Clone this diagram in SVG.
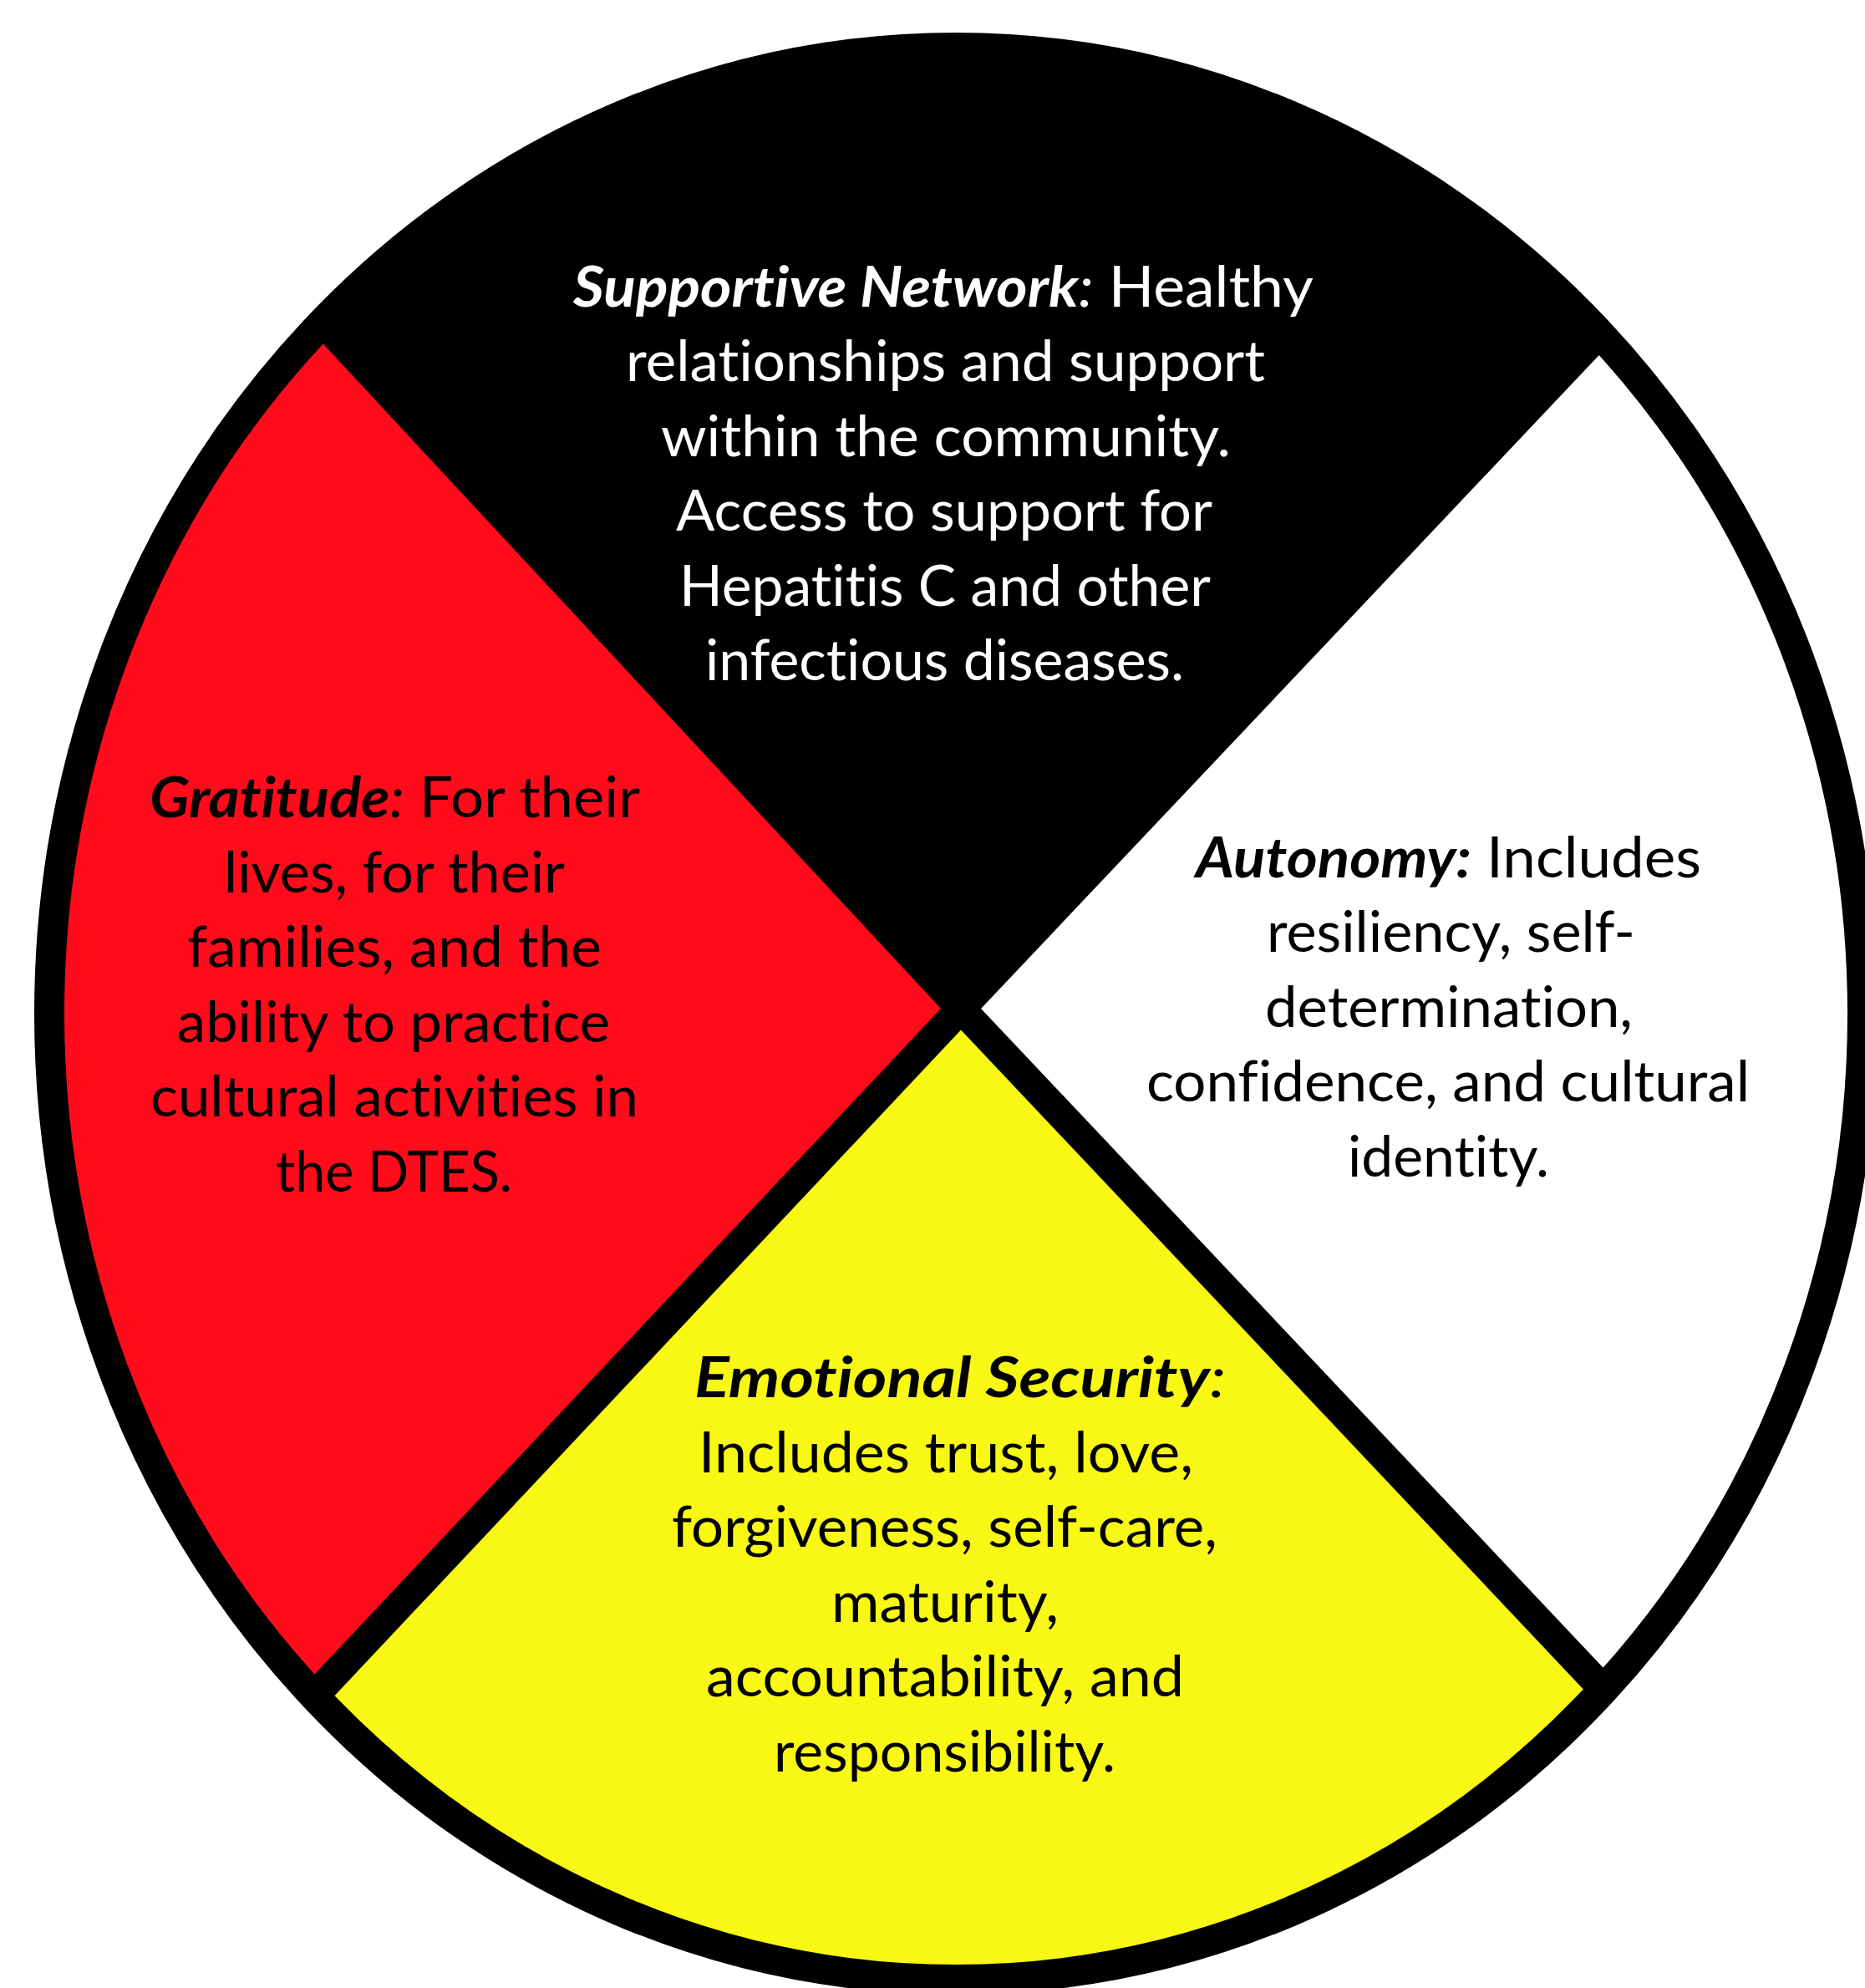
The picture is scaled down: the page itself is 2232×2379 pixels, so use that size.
<svg xmlns="http://www.w3.org/2000/svg" width="2232" height="2379" viewBox="0 0 2232 2379">
<style>
.t{font-family:Lato,"Open Sans","Liberation Sans",sans-serif;font-size:67px;font-variant-ligatures:none;font-feature-settings:"liga" 0,"clig" 0,"dlig" 0}
.w{fill:#ffffff}
.k{fill:#000000}
.bi{font-weight:700;font-style:italic}
.i{font-style:italic}
.div{stroke:#000;stroke-width:35;stroke-linecap:butt;fill:none}
</style>
<defs>
<clipPath id="wheel">
<ellipse cx="1144" cy="1213" rx="1085" ry="1156"/>
</clipPath>
</defs>
<rect width="2232" height="2379" fill="#ffffff"/>
<g clip-path="url(#wheel)">
<g id="supportive-network">
<polygon points="1150,1207 -352,-409 2650,-379" fill="#000000"/>
</g>
<g id="autonomy">
<polygon points="1150,1207 2650,-379 2669,2816" fill="#ffffff"/>
</g>
<g id="emotional-security">
<polygon points="1150,1207 2669,2816 -376,2829" fill="#F8F814"/>
</g>
<g id="gratitude">
<polygon points="1150,1207 -376,2829 -352,-409" fill="#FF0B1B"/>
</g>
<g id="connectors">
<line class="div" x1="1150" y1="1207" x2="-352" y2="-409"/>
<line class="div" x1="1150" y1="1207" x2="2650" y2="-379"/>
<line class="div" x1="1150" y1="1207" x2="2669" y2="2816"/>
<line class="div" x1="1150" y1="1207" x2="-376" y2="2829"/>
</g>
</g>
<g id="rim">
<ellipse cx="1144" cy="1213" rx="1085" ry="1156" fill="none" stroke="#000" stroke-width="36"/>
</g>
<g id="supportive-network-text" class="t w">
<text x="686" y="367" textLength="886" lengthAdjust="spacingAndGlyphs"><tspan class="bi">Supportive Network</tspan><tspan class="i">:</tspan><tspan> Healthy</tspan></text>
<text x="749" y="456" textLength="765" lengthAdjust="spacingAndGlyphs">relationships and support</text>
<text x="791" y="546" textLength="682" lengthAdjust="spacingAndGlyphs">within the community.</text>
<text x="809" y="635" textLength="642" lengthAdjust="spacingAndGlyphs">Access to support for</text>
<text x="813" y="725" textLength="636" lengthAdjust="spacingAndGlyphs">Hepatitis C and other</text>
<text x="844" y="814" textLength="573" lengthAdjust="spacingAndGlyphs">infectious diseases.</text>
</g>
<g id="gratitude-text" class="t k">
<text x="179" y="978" textLength="587" lengthAdjust="spacingAndGlyphs"><tspan class="bi">Gratitude</tspan><tspan class="i">:</tspan><tspan> For their</tspan></text>
<text x="268" y="1068" textLength="408" lengthAdjust="spacingAndGlyphs">lives, for their</text>
<text x="224" y="1157" textLength="496" lengthAdjust="spacingAndGlyphs">families, and the</text>
<text x="212" y="1247" textLength="518" lengthAdjust="spacingAndGlyphs">ability to practice</text>
<text x="180" y="1336" textLength="584" lengthAdjust="spacingAndGlyphs">cultural activities in</text>
<text x="330" y="1426" textLength="283" lengthAdjust="spacingAndGlyphs">the DTES.</text>
</g>
<g id="autonomy-text" class="t k">
<text x="1431" y="1050" textLength="605" lengthAdjust="spacingAndGlyphs"><tspan class="bi">Autonomy:</tspan><tspan> Includes</tspan></text>
<text x="1516" y="1139" textLength="441" lengthAdjust="spacingAndGlyphs">resiliency, self-</text>
<text x="1514" y="1229" textLength="440" lengthAdjust="spacingAndGlyphs">determination,</text>
<text x="1372" y="1318" textLength="722" lengthAdjust="spacingAndGlyphs">confidence, and cultural</text>
<text x="1613" y="1408" textLength="241" lengthAdjust="spacingAndGlyphs">identity.</text>
</g>
<g id="emotional-security-text" class="t k">
<text x="831" y="1672" textLength="636" lengthAdjust="spacingAndGlyphs"><tspan class="bi">Emotional Security</tspan><tspan class="i">:</tspan></text>
<text x="836" y="1762" textLength="592" lengthAdjust="spacingAndGlyphs">Includes trust, love,</text>
<text x="804" y="1851" textLength="653" lengthAdjust="spacingAndGlyphs">forgiveness, self-care,</text>
<text x="995" y="1941" textLength="272" lengthAdjust="spacingAndGlyphs">maturity,</text>
<text x="845" y="2030" textLength="572" lengthAdjust="spacingAndGlyphs">accountability, and</text>
<text x="926" y="2120" textLength="409" lengthAdjust="spacingAndGlyphs">responsibility.</text>
</g>
</svg>
